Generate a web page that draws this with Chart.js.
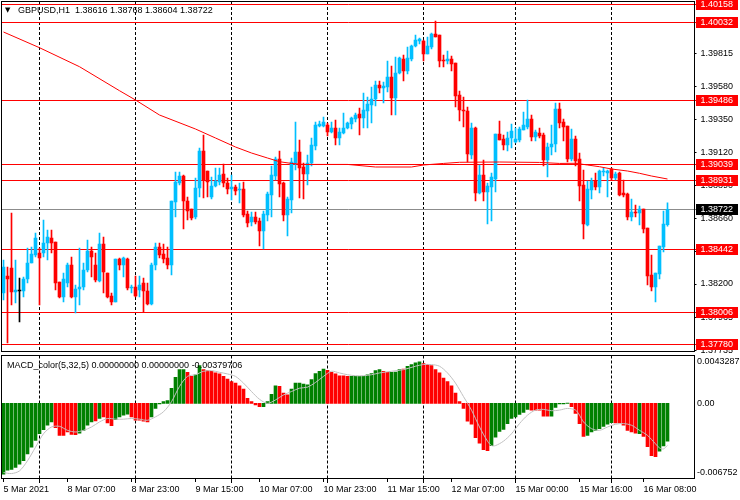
<!DOCTYPE html>
<html><head><meta charset="utf-8">
<script src="https://cdn.jsdelivr.net/npm/chart.js@4.4.1/dist/chart.umd.min.js"></script>
<style>
html,body{margin:0;padding:0;background:#fff;}
#wrap{position:relative;width:740px;height:500px;overflow:hidden;background:#fff;}
#c1{position:absolute;left:0;top:0;}
#c2{position:absolute;left:0;top:353px;}
</style></head><body>
<div id="wrap"><canvas id="c1" width="740" height="353"></canvas><canvas id="c2" width="740" height="147"></canvas></div>
<script>
// ---------- DATA (GBPUSD H1) ----------
const opens=[1.38137,1.38256,1.38312,1.38144,1.38151,1.38151,1.38235,1.38347,1.38403,1.38417,
1.38417,1.38487,1.38522,1.38494,1.38214,1.38109,1.38207,1.38333,1.38109,1.38165,
1.38179,1.38298,1.38431,1.38333,1.38221,1.38480,1.38277,1.38116,1.38074,1.38375,
1.38333,1.38375,1.38172,1.38179,1.38158,1.38207,1.38151,1.38060,1.38333,1.38459,
1.38410,1.38382,1.38333,1.38774,1.38907,1.38956,1.38781,1.38725,1.38669,1.38872,
1.39131,1.38991,1.38809,1.38886,1.38914,1.38970,1.38907,1.38865,1.38879,1.38858,
1.38865,1.38690,1.38634,1.38669,1.38641,1.38571,1.38683,1.38823,1.38956,1.39075,
1.38907,1.38683,1.38788,1.39047,1.39124,1.39019,1.38970,1.39047,1.39166,1.39306,
1.39306,1.39313,1.39264,1.39292,1.39222,1.39257,1.39292,1.39320,1.39355,1.39390,
1.39362,1.39411,1.39453,1.39495,1.39593,1.39572,1.39579,1.39649,1.39502,1.39677,
1.39775,1.39691,1.39775,1.39866,1.39901,1.39901,1.39810,1.39859,1.39950,1.39943,
1.39768,1.39761,1.39775,1.39747,1.39523,1.39418,1.39411,1.39103,1.39292,1.38837,
1.38963,1.38844,1.38879,1.38935,1.39250,1.39215,1.39173,1.39222,1.39194,1.39208,
1.39278,1.39299,1.39355,1.39229,1.39257,1.39243,1.39068,1.39159,1.39180,1.39425,
1.39334,1.39306,1.39075,1.39215,1.39075,1.38893,1.38613,1.38858,1.38921,1.38879,
1.38984,1.38977,1.39005,1.38942,1.38977,1.38837,1.38830,1.38669,1.38704,1.38697,
1.38725,1.38592,1.38263,1.38179,1.38270,1.38459,1.38616];
const highs=[1.38368,1.38319,1.38697,1.38368,1.38242,1.38249,1.38452,1.38459,1.38557,1.38452,
1.38648,1.38578,1.38578,1.38494,1.38214,1.38277,1.38347,1.38389,1.38193,1.38452,
1.38347,1.38508,1.38459,1.38417,1.38557,1.38529,1.38277,1.38137,1.38375,1.38382,
1.38389,1.38382,1.38193,1.38256,1.38256,1.38242,1.38207,1.38347,1.38487,1.38487,
1.38480,1.38459,1.38781,1.38984,1.38984,1.38963,1.38809,1.38725,1.38942,1.39152,
1.39243,1.38991,1.38949,1.39012,1.39012,1.39040,1.38942,1.38963,1.38893,1.38907,
1.38914,1.38711,1.38704,1.38704,1.38662,1.38711,1.38844,1.39026,1.39089,1.39131,
1.38914,1.38809,1.39082,1.39334,1.39208,1.39047,1.39103,1.39222,1.39334,1.39341,
1.39369,1.39327,1.39334,1.39348,1.39292,1.39397,1.39334,1.39369,1.39397,1.39432,
1.39537,1.39509,1.39579,1.39621,1.39621,1.39614,1.39761,1.39726,1.39789,1.39789,
1.39803,1.39859,1.39873,1.39943,1.39922,1.39908,1.39929,1.39957,1.40041,1.39943,
1.39803,1.39831,1.39796,1.39747,1.39551,1.39509,1.39439,1.39327,1.39299,1.39033,
1.39068,1.38907,1.38977,1.39250,1.39341,1.39243,1.39264,1.39320,1.39292,1.39299,
1.39404,1.39488,1.39383,1.39278,1.39292,1.39257,1.39187,1.39313,1.39467,1.39467,
1.39355,1.39306,1.39285,1.39236,1.39117,1.38998,1.38921,1.38942,1.38977,1.38998,
1.39012,1.38998,1.39012,1.38984,1.38984,1.38928,1.38837,1.38795,1.38753,1.38746,
1.38725,1.38592,1.38403,1.38277,1.38466,1.38711,1.38768];
const lows=[1.38088,1.37787,1.38053,1.38067,1.37934,1.38109,1.38207,1.38347,1.38389,1.38053,
1.38389,1.38368,1.38417,1.38158,1.38102,1.38074,1.38179,1.38102,1.37997,1.38053,
1.38158,1.38284,1.38249,1.38214,1.38214,1.38137,1.38102,1.38053,1.38074,1.38298,
1.38249,1.38158,1.38137,1.38109,1.38109,1.38004,1.38053,1.38053,1.38298,1.38382,
1.38347,1.38305,1.38263,1.38669,1.38893,1.38585,1.38648,1.38648,1.38655,1.38809,
1.38802,1.38809,1.38795,1.38879,1.38893,1.38879,1.38830,1.38788,1.38823,1.38767,
1.38669,1.38599,1.38606,1.38620,1.38466,1.38445,1.38641,1.38669,1.38928,1.38809,
1.38641,1.38536,1.38697,1.38998,1.38802,1.38795,1.38893,1.39026,1.39138,1.39299,
1.39299,1.39236,1.39257,1.39173,1.39173,1.39250,1.39285,1.39285,1.39334,1.39243,
1.39292,1.39292,1.39327,1.39446,1.39537,1.39467,1.39544,1.39383,1.39383,1.39670,
1.39621,1.39670,1.39761,1.39859,1.39880,1.39761,1.39810,1.39845,1.39929,1.39719,
1.39719,1.39740,1.39691,1.39439,1.39341,1.39299,1.39054,1.39075,1.38781,1.38830,
1.38781,1.38620,1.38641,1.38844,1.39208,1.39138,1.39131,1.39152,1.39187,1.39194,
1.39278,1.39285,1.39201,1.39201,1.39222,1.39026,1.38949,1.39103,1.39124,1.39292,
1.39201,1.39054,1.39061,1.39026,1.38781,1.38515,1.38606,1.38795,1.38858,1.38837,
1.38956,1.38809,1.38928,1.38928,1.38816,1.38809,1.38648,1.38641,1.38669,1.38613,
1.38557,1.38193,1.38151,1.38074,1.38235,1.38424,1.38604];
const closes=[1.38319,1.38235,1.38144,1.38158,1.38151,1.38235,1.38347,1.38410,1.38522,1.38382,
1.38487,1.38529,1.38487,1.38207,1.38109,1.38235,1.38333,1.38109,1.38165,1.38179,
1.38298,1.38431,1.38389,1.38228,1.38480,1.38284,1.38109,1.38074,1.38375,1.38333,
1.38382,1.38172,1.38179,1.38116,1.38193,1.38151,1.38060,1.38333,1.38459,1.38403,
1.38375,1.38333,1.38781,1.38914,1.38956,1.38781,1.38711,1.38662,1.38872,1.39131,
1.38928,1.38914,1.38886,1.38921,1.38963,1.38907,1.38865,1.38879,1.38851,1.38865,
1.38683,1.38627,1.38669,1.38634,1.38571,1.38690,1.38830,1.38963,1.39075,1.38900,
1.38683,1.38795,1.39054,1.39124,1.39012,1.38970,1.39047,1.39173,1.39313,1.39320,
1.39334,1.39264,1.39292,1.39222,1.39264,1.39292,1.39327,1.39362,1.39383,1.39362,
1.39418,1.39460,1.39495,1.39593,1.39572,1.39586,1.39649,1.39502,1.39677,1.39782,
1.39691,1.39782,1.39866,1.39908,1.39915,1.39810,1.39866,1.39950,1.39929,1.39761,
1.39761,1.39775,1.39740,1.39516,1.39418,1.39411,1.39110,1.39292,1.38837,1.38963,
1.38844,1.38886,1.38949,1.39250,1.39208,1.39173,1.39222,1.39271,1.39215,1.39285,
1.39313,1.39355,1.39229,1.39264,1.39236,1.39068,1.39159,1.39180,1.39425,1.39327,
1.39299,1.39075,1.39215,1.39061,1.38886,1.38620,1.38865,1.38921,1.38879,1.38991,
1.38991,1.38991,1.38942,1.38970,1.38823,1.38823,1.38669,1.38704,1.38697,1.38725,
1.38585,1.38256,1.38179,1.38277,1.38466,1.38620,1.38722];

// moving average (red line), read at these bar indices
const maIdx=[0,9,19,29,33,39,48,53,58,62,66,69,72,75,86,93,102,105,110,114,124,134,139,143,146,149,152,156,159,162,166];
const maVal=[1.39964,1.39854,1.39721,1.39553,1.39488,1.39383,1.39285,1.39222,1.39159,1.39117,1.39082,1.39056,1.39044,1.39037,1.39037,1.39019,1.39019,1.39033,1.39044,1.39052,1.39054,1.39051,1.39044,1.39045,1.39033,1.39021,1.39005,1.38991,1.38975,1.38956,1.38935];

// MACD histogram
const macdHist=[-0.00641,-0.00604,-0.00598,-0.00580,-0.00549,-0.00519,-0.00458,-0.00397,-0.00336,-0.00275,
-0.00238,-0.00198,-0.00168,-0.00220,-0.00290,-0.00290,-0.00259,-0.00281,-0.00284,-0.00269,
-0.00244,-0.00198,-0.00168,-0.00159,-0.00137,-0.00122,-0.00177,-0.00201,-0.00147,-0.00122,
-0.00107,-0.00098,-0.00122,-0.00153,-0.00153,-0.00162,-0.00168,-0.00122,-0.00046,-0.00006,
0.00015,0.00024,0.00137,0.00235,0.00305,0.00305,0.00281,0.00244,0.00259,0.00342,
0.00305,0.00296,0.00290,0.00275,0.00266,0.00244,0.00220,0.00198,0.00183,0.00159,
0.00128,0.00046,0.00015,-0.00015,-0.00031,-0.00031,0.00015,0.00082,0.00159,0.00153,
0.00092,0.00076,0.00128,0.00183,0.00183,0.00174,0.00168,0.00214,0.00269,0.00290,
0.00311,0.00299,0.00281,0.00266,0.00250,0.00250,0.00244,0.00244,0.00244,0.00244,
0.00244,0.00259,0.00269,0.00296,0.00305,0.00290,0.00281,0.00281,0.00284,0.00305,
0.00311,0.00336,0.00351,0.00366,0.00375,0.00360,0.00351,0.00342,0.00305,0.00275,
0.00229,0.00198,0.00159,0.00092,0.00015,-0.00046,-0.00162,-0.00189,-0.00311,-0.00360,
-0.00418,-0.00427,-0.00382,-0.00305,-0.00253,-0.00235,-0.00183,-0.00137,-0.00122,-0.00101,
-0.00082,-0.00055,-0.00061,-0.00061,-0.00061,-0.00116,-0.00116,-0.00116,-0.00037,-0.00006,
-0.00006,0.00003,-0.00031,-0.00092,-0.00183,-0.00299,-0.00290,-0.00259,-0.00244,-0.00229,
-0.00208,-0.00189,-0.00174,-0.00177,-0.00177,-0.00198,-0.00244,-0.00259,-0.00269,-0.00275,
-0.00299,-0.00391,-0.00473,-0.00482,-0.00433,-0.00385,-0.00342];
// histogram colour state per bar: G = up, R = down
const macdDir=('G'.repeat(13)+'R'.repeat(6)+'G'.repeat(4)+'R'+'G'+'R'.repeat(3)+'G'.repeat(4)+'R'.repeat(5)+
 'G'.repeat(9)+'R'.repeat(2)+'G'.repeat(2)+'R'.repeat(15)+'G'.repeat(4)+'R'.repeat(3)+'G'.repeat(9)+'R'.repeat(6)+
 'G'.repeat(8)+'R'.repeat(2)+'G'.repeat(3)+'R'+'G'.repeat(4)+'R'.repeat(17)+'G'.repeat(10)+'R'.repeat(5)+
 'G'.repeat(5)+'R'.repeat(4)+'G'.repeat(7)+'R'.repeat(6)+'G'+'R'.repeat(4)+'G'.repeat(3)).split('');
// MACD signal line (silver), read at these bar indices
const sigIdx=[0,2,4,6,8,10,12,14,16,18,20,22,24,26,28,30,32,34,36,38,40,42,44,46,48,50,52,54,56,58,60,62,64,66,68,70,72,74,76,78,80,82,84,86,88,90,92,94,
97,100,103,105,107,109,111,113,115,117,119,121,122,123,125,127,129,131,133,135,137,139,141,143,144,145,147,149,151,153,155,157,159,161,163,164,165,166];
const sigVal=[-0.00626,-0.00635,-0.00611,-0.00519,-0.00397,-0.00275,-0.00214,-0.00208,-0.00244,-0.00259,-0.00244,-0.00214,-0.00168,-0.00137,-0.00143,-0.00143,-0.00137,-0.00143,-0.00153,-0.00122,-0.00076,0.00015,0.00153,0.00244,0.00259,0.00290,0.00296,0.00281,0.00266,0.00244,0.00183,0.00107,0.00037,0.00000,0.00031,0.00076,0.00107,0.00137,0.00147,0.00189,0.00244,0.00290,0.00275,0.00259,0.00250,0.00250,0.00259,0.00275,
0.00290,0.00305,0.00336,0.00351,0.00351,0.00336,0.00275,0.00183,0.00061,-0.00061,-0.00214,-0.00342,-0.00382,-0.00382,-0.00342,-0.00275,-0.00183,-0.00107,-0.00061,-0.00055,-0.00067,-0.00061,-0.00046,-0.00061,-0.00107,-0.00168,-0.00229,-0.00244,-0.00214,-0.00189,-0.00183,-0.00198,-0.00244,-0.00290,-0.00366,-0.00403,-0.00412,-0.00380];

// price axis ticks, horizontal levels, current price
const priceTicks=[1.39815,1.39580,1.39350,1.39120,1.38890,1.38660,1.38430,1.38200,1.37965,1.37735];
const levels=[1.40158,1.40032,1.39486,1.39039,1.38931,1.38442,1.38006,1.37780];
const currentPrice=1.38722;
const priceMin=1.37731, priceMax=1.40174;
// MACD window range and labels
const macdMax=0.0043287, macdMin=-0.006752;
const macdAxisLabels=['0.0043287','0.00','-0.006752'];
// time axis
const xLabelIdx=[0,16,32,48,64,80,96,112,128,144,160];
const xLabelText=['5 Mar 2021','8 Mar 07:00','8 Mar 23:00','9 Mar 15:00','10 Mar 07:00','10 Mar 23:00','11 Mar 15:00','12 Mar 07:00','15 Mar 00:00','15 Mar 16:00','16 Mar 08:00'];
const gridIdx=[9,33,57,81,105,128,152];
const symbolTitle='GBPUSD,H1';
const macdTitle='MACD_color(5,32,5) 0.00000000 0.00000000 -0.00379706';

// ---------- RENDER ----------
const NSLOT=173;
const FONT='"Liberation Sans", Arial, sans-serif';
const BLUE='#00bfff', RED='#ff0000';
const slotLabels=Array.from({length:NSLOT},(_,i)=>{const k=xLabelIdx.indexOf(i);return k>=0?xLabelText[k]:'';});
function sparse(idx,val){const a=new Array(NSLOT).fill(null);idx.forEach((k,j)=>{a[k]=val[j];});return a;}
const candleColor=opens.map((o,i)=>closes[i]>o?BLUE:(closes[i]<o?RED:'#000000'));

function dashedGrid(chart){
  const {ctx,chartArea:a,scales:{x}}=chart;
  ctx.save();ctx.strokeStyle='#000';ctx.lineWidth=1;ctx.setLineDash([3,2]);
  gridIdx.forEach(i=>{const px=Math.floor(x.getPixelForValue(i))+0.5;ctx.beginPath();ctx.moveTo(px,a.top);ctx.lineTo(px,a.bottom);ctx.stroke();});
  ctx.restore();
}
function frame(chart,top,bottom){
  const ctx=chart.ctx;ctx.save();ctx.strokeStyle='#000';ctx.lineWidth=1;ctx.setLineDash([]);
  ctx.strokeRect(1.5,top,693,bottom-top);ctx.restore();
}

const mainPlugin={id:'mainPlugin',
  beforeDatasetsDraw(chart){
    dashedGrid(chart);
    const {ctx,chartArea:a,scales:{y}}=chart;
    ctx.save();ctx.lineWidth=1;
    ctx.strokeStyle=RED;
    levels.forEach(v=>{const py=Math.round(y.getPixelForValue(v))+0.5;ctx.beginPath();ctx.moveTo(a.left,py);ctx.lineTo(696,py);ctx.stroke();});
    ctx.strokeStyle='#8c8c8c';
    const cp=Math.round(y.getPixelForValue(currentPrice))+0.5;ctx.beginPath();ctx.moveTo(a.left,cp);ctx.lineTo(696,cp);ctx.stroke();
    ctx.restore();
  },
  afterDraw(chart){
    const {ctx,scales:{y}}=chart;
    frame(chart,1.5,351.5);
    ctx.save();
    ctx.font='9px '+FONT;ctx.textBaseline='middle';ctx.textAlign='left';
    levels.forEach(v=>{const py=Math.round(y.getPixelForValue(v));ctx.fillStyle=RED;ctx.fillRect(696,py-5,42,11);ctx.fillStyle='#fff';ctx.fillText(v.toFixed(5),700.5,py+0.5);});
    const cp=Math.round(y.getPixelForValue(currentPrice));ctx.fillStyle='#000';ctx.fillRect(696,cp-5,42,11);ctx.fillStyle='#fff';ctx.fillText(currentPrice.toFixed(5),700.5,cp+0.5);
    // title
    const L=opens.length-1;
    ctx.fillStyle='#000';
    ctx.font='7px "DejaVu Sans", sans-serif';ctx.fillText('\u25BC',5,10);
    ctx.font='9px '+FONT;
    ctx.fillText(symbolTitle+'  '+[opens[L],highs[L],lows[L],closes[L]].map(v=>v.toFixed(5)).join(' '),18,10.5);
    ctx.restore();
  }
};

new Chart(document.getElementById('c1'),{
  type:'bar',
  data:{labels:slotLabels,datasets:[
    {type:'line',data:sparse(maIdx,maVal),borderColor:RED,borderWidth:1,pointRadius:0,spanGaps:true,tension:0,order:0},
    {data:opens.map((o,i)=>[o,closes[i]]),backgroundColor:candleColor,barThickness:3,minBarLength:1,grouped:false,borderWidth:0,order:1},
    {data:lows.map((l,i)=>[l,highs[i]]),backgroundColor:candleColor,barThickness:1,grouped:false,borderWidth:0,order:2}
  ]},
  options:{responsive:false,animation:false,events:[],
    layout:{padding:{left:1.5,right:0,top:2,bottom:2}},
    plugins:{legend:{display:false},tooltip:{enabled:false}},
    scales:{
      x:{type:'category',display:false,offset:true},
      y:{type:'linear',position:'right',min:priceMin,max:priceMax,
        afterFit(s){s.width=46.5;s.paddingTop=0;s.paddingBottom=0;},
        afterBuildTicks(s){s.ticks=priceTicks.map(v=>({value:v}));},
        ticks:{autoSkip:false,callback:v=>Number(v).toFixed(5),font:{family:FONT,size:9},color:'#000',padding:4},
        grid:{drawOnChartArea:false,drawTicks:true,tickLength:3,color:'#000'},
        border:{display:false}}
    }
  },
  plugins:[mainPlugin]
});

const macdPlugin={id:'macdPlugin',
  beforeDatasetsDraw(chart){dashedGrid(chart);},
  afterDraw(chart){
    const {ctx,scales:{x,y}}=chart;
    frame(chart,2.5,125.5);
    ctx.save();ctx.fillStyle='#000';ctx.font='9px '+FONT;ctx.textAlign='left';ctx.textBaseline='middle';
    ctx.fillText(macdTitle,7,12.5);
    ctx.fillText(macdAxisLabels[0],697,y.getPixelForValue(macdMax)+6.5);
    ctx.fillText(macdAxisLabels[1],697,y.getPixelForValue(0)+0.5);
    ctx.fillText(macdAxisLabels[2],697,y.getPixelForValue(macdMin)-5.5);
    // tick marks at day separators
    ctx.strokeStyle='#000';ctx.lineWidth=1;
    gridIdx.forEach(i=>{const px=Math.floor(x.getPixelForValue(i))+0.5;ctx.beginPath();ctx.moveTo(px,125);ctx.lineTo(px,130);ctx.stroke();});
    ctx.restore();
  }
};

new Chart(document.getElementById('c2'),{
  type:'bar',
  data:{labels:slotLabels,datasets:[
    {type:'line',data:sparse(sigIdx,sigVal),borderColor:'#c0c0c0',borderWidth:1,pointRadius:0,spanGaps:true,tension:0.3,order:0},
    {data:macdHist,backgroundColor:macdDir.map(d=>d==='G'?'#008000':'#ff0000'),barThickness:3,grouped:false,borderWidth:0,order:1}
  ]},
  options:{responsive:false,animation:false,events:[],
    layout:{padding:{left:1.5,right:0,top:2.5,bottom:0}},
    plugins:{legend:{display:false},tooltip:{enabled:false}},
    scales:{
      x:{type:'category',offset:true,
        afterBuildTicks(s){s.ticks=xLabelIdx.map(v=>({value:v}));},
        afterFit(s){s.height=22;s.paddingLeft=0;s.paddingRight=0;},
        ticks:{autoSkip:false,maxRotation:0,minRotation:0,align:'start',font:{family:FONT,size:9},color:'#000',padding:2,callback:v=>slotLabels[v]},
        grid:{display:true,drawOnChartArea:false,drawTicks:true,tickLength:4,color:'#000',offset:false},
        border:{display:false}},
      y:{type:'linear',position:'right',min:macdMin,max:macdMax,
        afterFit(s){s.width=46.5;s.paddingTop=0;s.paddingBottom=0;},
        ticks:{display:false},grid:{display:false},border:{display:false}}
    }
  },
  plugins:[macdPlugin]
});
</script>
</body></html>
